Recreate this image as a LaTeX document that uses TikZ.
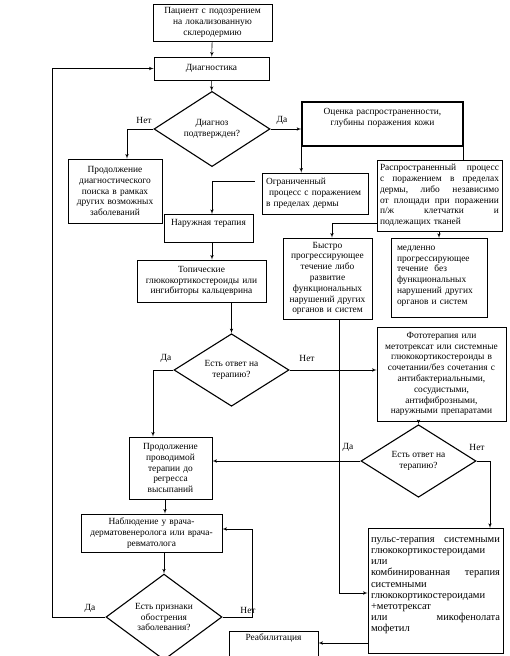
\documentclass[tikz,border=0pt]{standalone}
\usepackage{fontspec}
\setmainfont{Liberation Serif}
\usepackage{tikz}
\usetikzlibrary{arrows,shapes.geometric}
\tikzset{every node/.style = {font = \fontsize{9.4}{10.8}\selectfont}}
\tikzset{block/.style = {shape = rectangle, draw, line width = 0.6pt, align = center, inner xsep = 3pt, inner ysep = 2pt}}
\tikzset{check/.style = {shape = diamond, draw, line width = 1.1pt, align = center, inner sep = 0pt}}
\tikzset{edge/.style = {->,> = latex', line width = 0.6pt}}
\tikzset{lbl/.style = {inner sep = 1pt}}

\begin{document}
\begin{tikzpicture}[x = 1pt, y = -1pt]
			\useasboundingbox (0, 0) rectangle (510, 656);

			\node[block, text width = 113, minimum height = 37] (pat) at (212.5, 22.5) {Пациент с подозрением\\ на локализованную\\ склеродермию};
			\node[block, text width = 109, minimum height = 23] (diag) at (211.5, 68.5) {Диагностика};
			\node[check, minimum width = 116, minimum height = 62] (d1) at (212, 129) {Диагноз\\ подтвержден?};
			\node[block, anchor = north, line width = 1.5pt, text width = 155, text height = 11pt, text depth = 29pt] (ocen) at (382.5, 101) {Оценка распространенности,\\ глубины поражения кожи};
			\node[block, text width = 88, minimum height = 64] (poisk) at (115, 191) {Продолжение\\ диагностического\\ поиска в рамках\\ других возможных\\ заболеваний};
			\node[block, align = left, inner xsep = 4pt, text width = 98, minimum height = 41] (ogr) at (315, 193.5) {Ограниченный\\ \ процесс с поражением\\ в пределах дермы};
			\node[block, align = left, text width = 119, minimum height = 71] (rasp) at (439.5, 195.5) {Распространенный\hfill процесс\\ с\hfill поражением\hfill в\hfill пределах\\ дермы,\hfill либо\hfill независимо\\ от\hfill площади\hfill при\hfill поражении\\ п/ж\hfill клетчатки\hfill и\\ подлежащих тканей};
			\node[block, anchor = north, text width = 83, text height = 9pt, text depth = 15pt] (naruzh) at (208.5, 214) {Наружная терапия};
			\node[block, text width = 123, minimum height = 42] (topich) at (201.5, 281) {Топические\\ глюкокортикостероиды или\\ ингибиторы кальцеврина};
			\node[block, text width = 83, minimum height = 81] (bystro) at (327.5, 278.5) {Быстро\\ прогрессирующее\\ течение либо\\ развитие\\ функциональных\\ нарушений других\\ органов и систем};
			\node[block, anchor = north, align = left, inner xsep = 6pt, text width = 84, text height = 10pt, text depth = 65pt] (medl) at (439, 238) {медленно\\ прогрессирующее\\ течение\ \ без\\ функциональных\\ нарушений других\\ органов и систем};
			\node[check, minimum width = 115, minimum height = 62] (d2) at (231.5, 370) {Есть ответ на\\ терапию?};
			\node[block, text width = 123, minimum height = 94] (foto) at (441.5, 374) {Фототерапия или\\ метотрексат или системные\\ глюкокортикостероиды в\\ сочетании/без сочетания с\\ антибактериальными,\\ сосудистыми,\\ антифиброзными,\\ наружными препаратами};
			\node[check, minimum width = 115, minimum height = 62] (d3) at (418.5, 461) {Есть ответ на\\ терапию?};
			\node[block, text width = 77, minimum height = 62] (prod) at (170.5, 468) {Продолжение\\ проводимой\\ терапии до\\ регресса\\ высыпаний};
			\node[block, text width = 135, minimum height = 38] (nabl) at (151.5, 533) {Наблюдение у врача-\\ дерматовенеролога или врача-\\ ревматолога};
			\node[check, minimum width = 116, minimum height = 62] (d4) at (164, 617) {Есть признаки\\ обострения\\ заболевания?};
			\node[block, anchor = north, align = left, font = \fontsize{10.5}{11.2}\selectfont, text width = 129, text height = 12pt, text depth = 109pt] (puls) at (435.5, 528) {пульс-терапия\hfill системными\\ глюкокортикостероидами\\ или\\ комбинированная\hfill терапия\\ системными\\ глюкокортикостероидами\\ +метотрексат\\ или\hfill микофенолата\\ мофетил};
			\node[block, anchor = north, text width = 83, text depth = 25pt] (reab) at (273.5, 631) {Реабилитация};

			\node[lbl] (n1) at (144, 120) {Нет};
			\node[lbl] (y1) at (282, 120) {Да};
			\node[lbl] (y2) at (166, 358) {Да};
			\node[lbl] (n2) at (307, 358) {Нет};
			\node[lbl] (y3) at (348, 447) {Да};
			\node[lbl] (n3) at (477, 447) {Нет};
			\node[lbl] (y4) at (90, 608) {Да};
			\node[lbl] (n4) at (248, 610) {Нет};

			\coordinate (ogrout) at ([xshift = -7pt, yshift = 12pt]ogr.west);
			\coordinate (raspout) at ([yshift = -27.5pt]rasp.west);
			\coordinate (pulsout) at ([yshift = -115pt]puls.north west);

			\draw[edge] (pat) to (diag);
			\draw[edge] (diag) to (d1);
			\draw[edge] (d1.west) -| ([xshift = 12pt]poisk.north);
			\draw[edge] (d1.east) to (d1.east -| ocen.west);
			\draw[edge] (ocen.south west) to (ocen.south west |- ogr.north);
			\draw[line width = 0.6pt] (ocen.south east) to (ocen.south east |- rasp.north);
			\draw[edge] (ogrout) -| ([xshift = 3.5pt]naruzh.north);
			\draw[edge] (raspout) -| ([xshift = 4.5pt]bystro.north);
			\draw[edge] (rasp.south -| medl.north) to (medl.north);
			\draw[edge] ([xshift = 3.5pt]naruzh.south) to ([xshift = 3.5pt]naruzh.south |- topich.north);
			\draw[edge] (d2.north |- topich.south) to (d2.north);
			\draw[edge] (d2.west) -| ([xshift = -17.5pt]prod.north);
			\draw[edge] (d2.east) to (d2.east -| foto.west);
			\draw[edge] ([xshift = 11.5pt]bystro.south) |- ([yshift = -65pt]puls.north west);
			\draw[edge] (d3.north |- foto.south) to (d3.north);
			\draw[edge] (d3.west) to (d3.west -| prod.east);
			\draw[edge] (d3.east) -| ([xshift = 54.5pt]puls.north);
			\draw[edge] ([xshift = -5.5pt]prod.south) to ([xshift = -5.5pt]prod.south |- nabl.north);
			\draw[edge] (d4.north |- nabl.south) to (d4.north);
			\draw[edge] (d4.west) -- ++(-53, 0) |- (diag.west);
			\draw[edge] (d4.east) -- ++(30, 0) |- ([yshift = 4pt]nabl.east);
			\draw[edge] (pulsout) to (pulsout -| reab.east);
		\end{tikzpicture}
\end{document}
